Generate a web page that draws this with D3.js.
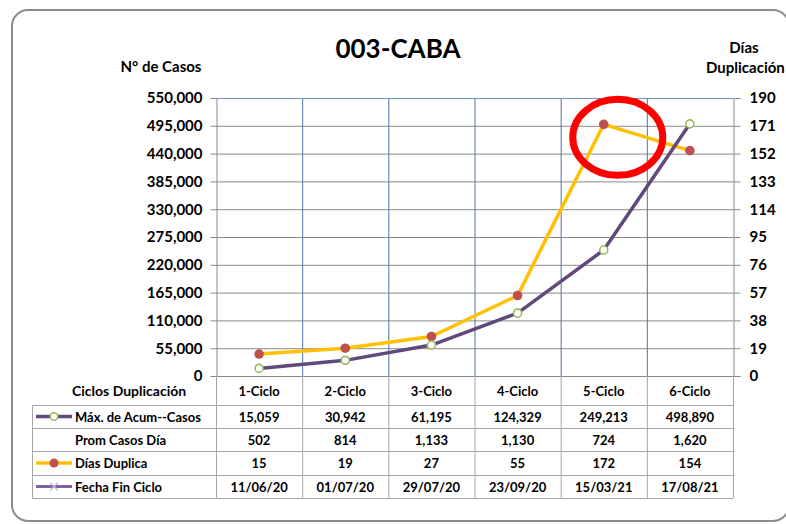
<!DOCTYPE html>
<html>
<head>
<meta charset="utf-8">
<script src="https://cdn.jsdelivr.net/npm/d3@7"></script>
<style>
  body { margin: 0; background: #fff; overflow: hidden; }
  svg { font-family: Lato, "Open Sans", sans-serif; font-weight: bold; }
</style>
</head>
<body>
<div id="chart"></div>
<script>
// data
const ciclos = ["1-Ciclo", "2-Ciclo", "3-Ciclo", "4-Ciclo", "5-Ciclo", "6-Ciclo"]
const maxCasos = [15059, 30942, 61195, 124329, 249213, 498890]
const promCasos = [502, 814, 1133, 1130, 724, 1620]
const diasDuplica = [15, 19, 27, 55, 172, 154]
const fechaFin = ["11/06/20", "01/07/20", "29/07/20", "23/09/20", "15/03/21", "17/08/21"]
const leftTicks = [0, 55000, 110000, 165000, 220000, 275000, 330000, 385000, 440000, 495000, 550000]
const rightTicks = [0, 19, 38, 57, 76, 95, 114, 133, 152, 171, 190]

const width = 786
const height = 524
const margin = { top: 98, right: 53, bottom: 148, left: 216 }

const svg = d3.select("#chart")
    .append("svg")
    .attr("width", width)
    .attr("height", height)

// outer frame (its right side runs just past the picture)
svg.append("rect")
    .attr("x", 12).attr("y", 10)
    .attr("width", 777).attr("height", 511)
    .attr("rx", 16)
    .attr("fill", "#fff")
    .attr("stroke", "#8c8c8c")
    .attr("stroke-width", 2)

const x = d3.scaleBand()
    .domain(ciclos)
    .range([margin.left, width - margin.right])

const yLeft = d3.scaleLinear()
    .domain([0, 550000])
    .range([height - margin.bottom, margin.top])

const yRight = d3.scaleLinear()
    .domain([0, 190])
    .range([height - margin.bottom, margin.top])

const x0 = margin.left, x1 = width - margin.right
const yBottom = height - margin.bottom

// horizontal gridlines
svg.append("g")
    .selectAll("line")
    .data(leftTicks)
    .enter().append("line")
    .attr("x1", x0).attr("x2", x1)
    .attr("y1", d => yLeft(d) + 0.5).attr("y2", d => yLeft(d) + 0.5)
    .attr("stroke", "#8a8a8a")

// vertical category lines in the plot
svg.append("g")
    .selectAll("line")
    .data(ciclos.slice(1))
    .enter().append("line")
    .attr("x1", d => x(d) + 0.5).attr("x2", d => x(d) + 0.5)
    .attr("y1", margin.top).attr("y2", yBottom)
    .attr("stroke", "#4f74a8")

svg.append("line")
    .attr("x1", x0).attr("x2", x1)
    .attr("y1", margin.top + 0.5).attr("y2", margin.top + 0.5)
    .attr("stroke", "#6f95c8")

// axes
const leftAxis = svg.append("g")
    .attr("transform", `translate(${x0 + 0.5},0)`)
    .call(d3.axisLeft(yLeft).tickValues(leftTicks).tickFormat(d3.format(",")).tickSizeOuter(0).tickSize(6).tickPadding(8))
leftAxis.selectAll("text").attr("font-size", 15).attr("font-weight", "bold").attr("font-family", "Lato").attr("fill", "#000")
leftAxis.selectAll("line, path").attr("stroke", "#8a8a8a")

const rightAxis = svg.append("g")
    .attr("transform", `translate(${x1 + 0.5},0)`)
    .call(d3.axisRight(yRight).tickValues(rightTicks).tickSizeOuter(0).tickSize(7).tickPadding(9))
rightAxis.selectAll("text").attr("font-size", 15).attr("font-weight", "bold").attr("font-family", "Lato").attr("fill", "#000")
rightAxis.selectAll("line, path").attr("stroke", "#8a8a8a")

// titles
svg.append("text")
    .attr("x", 398).attr("y", 58)
    .attr("text-anchor", "middle")
    .attr("font-size", 26)
    .text("003-CABA")

svg.append("text")
    .attr("x", 161).attr("y", 72)
    .attr("text-anchor", "middle")
    .attr("font-size", 15)
    .text("N° de Casos")

svg.append("text")
    .attr("x", 744).attr("y", 53)
    .attr("text-anchor", "middle")
    .attr("font-size", 15)
    .text("Días")

svg.append("text")
    .attr("x", 706).attr("y", 73)
    .attr("font-size", 15)
    .text("Duplicación")

// table
const rowLines = [405, 428, 451, 475, 498]
const tableLeft = 32
const grid = svg.append("g").attr("stroke", "#a6a6a6")

rowLines.forEach(y => {
    grid.append("line")
        .attr("x1", tableLeft).attr("x2", x1)
        .attr("y1", y + 0.5).attr("y2", y + 0.5)
})
grid.append("line")
    .attr("x1", tableLeft + 0.5).attr("x2", tableLeft + 0.5)
    .attr("y1", rowLines[0]).attr("y2", rowLines[4])
ciclos.forEach(c => {
    grid.append("line")
        .attr("x1", x(c) + 0.5).attr("x2", x(c) + 0.5)
        .attr("y1", yBottom).attr("y2", rowLines[4])
})
grid.append("line")
    .attr("x1", x1 + 0.5).attr("x2", x1 + 0.5)
    .attr("y1", yBottom).attr("y2", rowLines[4])

svg.append("text")
    .attr("x", 72).attr("y", 396)
    .attr("font-size", 14)
    .text("Ciclos Duplicación")

svg.append("g")
    .selectAll("text")
    .data(ciclos)
    .enter().append("text")
    .attr("x", d => x(d) + x.bandwidth() / 2)
    .attr("y", 396)
    .attr("text-anchor", "middle")
    .attr("font-size", 13)
    .text(d => d)

const fmt = d3.format(",")
const rows = [
    { label: "Máx. de Acum--Casos", values: maxCasos.map(fmt) },
    { label: "Prom Casos Día", values: promCasos.map(fmt) },
    { label: "Días Duplica", values: diasDuplica.map(fmt) },
    { label: "Fecha Fin Ciclo", values: fechaFin }
]

rows.forEach((r, i) => {
    const cy = (rowLines[i] + rowLines[i + 1]) / 2
    svg.append("text")
        .attr("x", 75).attr("y", cy + 5)
        .attr("font-size", 13)
        .text(r.label)
    svg.append("g")
        .selectAll("text")
        .data(r.values)
        .enter().append("text")
        .attr("x", (d, j) => x(ciclos[j]) + x.bandwidth() / 2)
        .attr("y", cy + 5)
        .attr("text-anchor", "middle")
        .attr("font-size", 13)
        .text(d => d)
})

// legend keys inside the table
const keyY = i => (rowLines[i] + rowLines[i + 1]) / 2
svg.append("line").attr("x1", 36).attr("x2", 72).attr("y1", keyY(0)).attr("y2", keyY(0))
    .attr("stroke", "#604a7b").attr("stroke-width", 3.5)
svg.append("circle").attr("cx", 54).attr("cy", keyY(0)).attr("r", 3.8)
    .attr("fill", "#fff").attr("stroke", "#9bbb59").attr("stroke-width", 1.5)

svg.append("line").attr("x1", 36).attr("x2", 72).attr("y1", keyY(2)).attr("y2", keyY(2))
    .attr("stroke", "#ffc000").attr("stroke-width", 3.5)
svg.append("circle").attr("cx", 54).attr("cy", keyY(2)).attr("r", 4.5)
    .attr("fill", "#c0504d")

svg.append("line").attr("x1", 36).attr("x2", 72).attr("y1", keyY(3)).attr("y2", keyY(3))
    .attr("stroke", "#8064a2").attr("stroke-width", 3)
svg.append("path")
    .attr("d", `M50,${keyY(3) - 4}L58,${keyY(3) + 4}M50,${keyY(3) + 4}L58,${keyY(3) - 4}`)
    .attr("stroke", "#c6b9dc").attr("stroke-width", 1.2)

// series
const cx = (d, i) => x(ciclos[i]) + x.bandwidth() / 2

const casosLine = d3.line()
    .x(cx)
    .y(d => yLeft(d))

const diasLine = d3.line()
    .x(cx)
    .y(d => yRight(d))

svg.append("path")
    .datum(diasDuplica)
    .attr("d", diasLine)
    .attr("fill", "none")
    .attr("stroke", "#ffc000")
    .attr("stroke-width", 3.5)
    .attr("stroke-linejoin", "round")

svg.append("path")
    .datum(maxCasos)
    .attr("d", casosLine)
    .attr("fill", "none")
    .attr("stroke", "#604a7b")
    .attr("stroke-width", 3.5)
    .attr("stroke-linejoin", "round")

svg.append("g")
    .selectAll("circle")
    .data(diasDuplica)
    .enter().append("circle")
    .attr("cx", cx)
    .attr("cy", d => yRight(d))
    .attr("r", 4.8)
    .attr("fill", "#c0504d")

svg.append("g")
    .selectAll("circle")
    .data(maxCasos)
    .enter().append("circle")
    .attr("cx", cx)
    .attr("cy", d => yLeft(d))
    .attr("r", 4)
    .attr("fill", "#fff")
    .attr("stroke", "#9bbb59")
    .attr("stroke-width", 1.6)

// red highlight ring around the 5-Ciclo peak
svg.append("ellipse")
    .attr("cx", x("5-Ciclo") + x.bandwidth() / 2 + 14)
    .attr("cy", yRight(diasDuplica[4]) + 13)
    .attr("rx", 45)
    .attr("ry", 38)
    .attr("fill", "none")
    .attr("stroke", "#ff0000")
    .attr("stroke-width", 7)
</script>
</body>
</html>
